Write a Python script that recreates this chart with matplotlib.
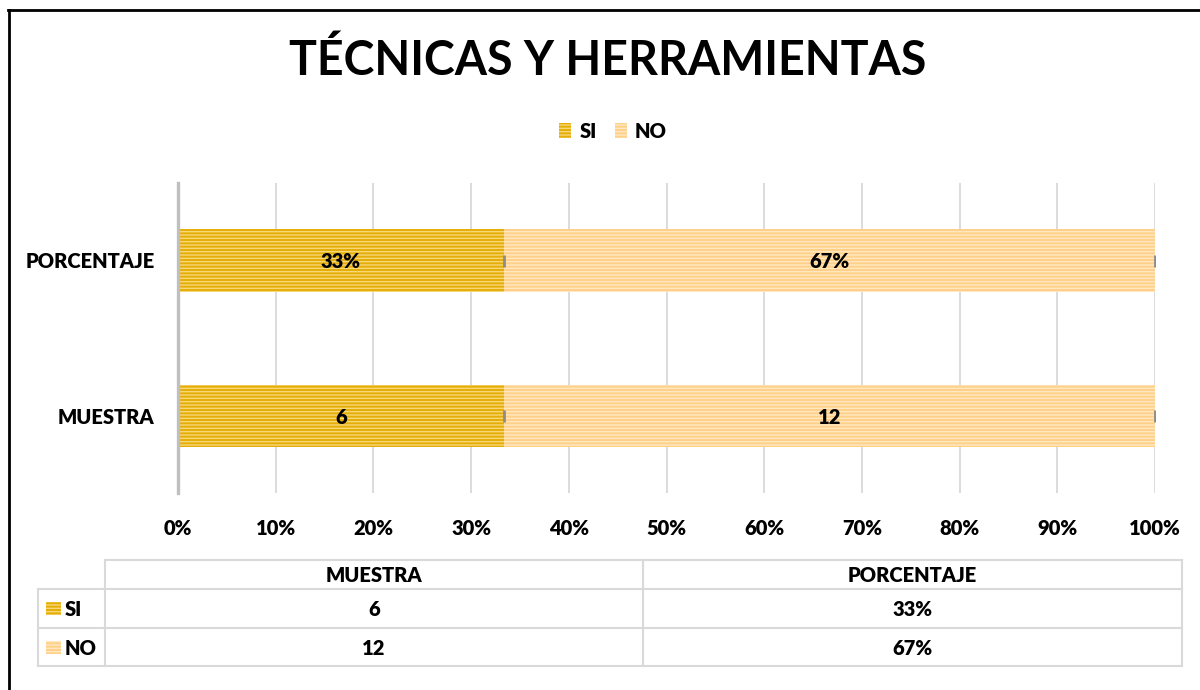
import matplotlib
matplotlib.use("Agg")
import matplotlib.pyplot as plt
import numpy as np
from matplotlib.lines import Line2D
from matplotlib.patches import Rectangle

# ---- data ----
categories = ["MUESTRA", "PORCENTAJE"]
series_names = ["SI", "NO"]
si_values = [6, 0.3333]
no_values = [12, 0.6667]
si_labels = ["6", "33%"]
no_labels = ["12", "67%"]
xtick_values = [0, 0.1, 0.2, 0.3, 0.4, 0.5, 0.6, 0.7, 0.8, 0.9, 1.0]
xtick_labels = ["0%", "10%", "20%", "30%", "40%", "50%", "60%", "70%", "80%", "90%", "100%"]
title = "TÉCNICAS Y HERRAMIENTAS"

# ---- style ----
plt.rcParams['font.family'] = ['Lato', 'DejaVu Sans']
plt.rcParams['hatch.linewidth'] = 1.0
FS = 14.5
FW = "heavy"
si_face, si_hatch = "#E5AD08", "#F7D877"
no_face, no_hatch = "#FFD088", "#FFE7C2"
grid_c = "#D9D9D9"

W, H = 1200, 690
fig = plt.figure(figsize=(12, 6.9), dpi=100)

def fx(px):
    return px / W

def fy(py):
    return 1 - py / H

ax = fig.add_axes([fx(178), fy(493), fx(1155) - fx(178), fy(183) - fy(493)])

si = np.array(si_values, dtype=float)
no = np.array(no_values, dtype=float)
tot = si + no
si_f = si / tot
no_f = no / tot
y = np.arange(len(categories))

b1 = ax.barh(y, si_f, height=0.4, color=si_face, edgecolor=si_hatch, linewidth=0,
             hatch="-----", label=series_names[0], zorder=3)
b2 = ax.barh(y, no_f, left=si_f, height=0.4, color=no_face, edgecolor=no_hatch, linewidth=0,
             hatch="-----", label=series_names[1], zorder=3)

for i in range(len(categories)):
    ax.text(si_f[i] / 2, y[i], si_labels[i], ha="center", va="center_baseline",
            fontsize=FS, fontweight=FW, color="black", zorder=5)
    ax.text(si_f[i] + no_f[i] / 2, y[i], no_labels[i], ha="center", va="center_baseline",
            fontsize=FS, fontweight=FW, color="black", zorder=5)

# small grey markers at segment ends
ends = np.concatenate([si_f, si_f + no_f])
ax.plot(ends, np.concatenate([y, y]), linestyle="none", marker="|", markersize=8,
        markeredgewidth=2, color="#8C8C8C", zorder=4)

ax.set_xlim(0, 1)
ax.set_ylim(-0.5, 1.5)
ax.set_xticks(xtick_values)
ax.set_xticklabels(xtick_labels, fontsize=FS, fontweight=FW)
ax.set_yticks(y)
ax.set_yticklabels(categories, fontsize=FS, fontweight=FW)
ax.tick_params(axis="x", length=0, pad=19)
ax.tick_params(axis="y", length=0, pad=17)
ax.grid(axis="x", color=grid_c, linewidth=1.3, zorder=0)
for s in ["top", "right", "bottom"]:
    ax.spines[s].set_visible(False)
ax.spines["left"].set_color("#BFBFBF")
ax.spines["left"].set_linewidth(2.4)
ax.spines["left"].set_zorder(6)

# title
fig.text(fx(608), fy(61), title, ha="center", va="center", fontsize=33.5,
         fontweight="bold", color="black")

# legend
fig.legend(handles=[b1, b2], labels=series_names, loc="center",
           bbox_to_anchor=(fx(613), fy(131)), ncol=2, frameon=False,
           prop={"size": FS, "weight": FW}, handlelength=0.6, handleheight=0.75,
           handletextpad=0.4, columnspacing=0.9)

# figure border (top and left)
fig.add_artist(Line2D([fx(8), 1.0], [fy(10), fy(10)], color="black", linewidth=2, transform=fig.transFigure))
fig.add_artist(Line2D([fx(9), fx(9)], [fy(10), 0.0], color="black", linewidth=2, transform=fig.transFigure))

# data table
tl = dict(color=grid_c, linewidth=1.5, transform=fig.transFigure)
x_lab, x_c1, x_c2, x_end = 38, 105, 643, 1182
y_top, y_h, y_r1, y_r2 = 560, 589, 628, 666
fig.add_artist(Line2D([fx(x_c1), fx(x_end)], [fy(y_top)] * 2, **tl))
for yy in [y_h, y_r1, y_r2]:
    fig.add_artist(Line2D([fx(x_lab), fx(x_end)], [fy(yy)] * 2, **tl))
fig.add_artist(Line2D([fx(x_lab)] * 2, [fy(y_h), fy(y_r2)], **tl))
for xx in [x_c1, x_c2, x_end]:
    fig.add_artist(Line2D([fx(xx)] * 2, [fy(y_top), fy(y_r2)], **tl))

col_centers = [(x_c1 + x_c2) / 2, (x_c2 + x_end) / 2]
for j, cat in enumerate(categories):
    fig.text(fx(col_centers[j]), fy((y_top + y_h) / 2), cat, ha="center", va="center_baseline",
             fontsize=FS, fontweight=FW)
row_ys = [(y_h + y_r1) / 2, (y_r1 + y_r2) / 2]
row_labels = [si_labels, no_labels]
faces = [(si_face, si_hatch), (no_face, no_hatch)]
for r in range(2):
    fc, hc = faces[r]
    fig.add_artist(Rectangle((fx(46), fy(row_ys[r] + 6.5)), fx(15), fy(0) - fy(13),
                             facecolor=fc, edgecolor=hc, linewidth=0, hatch="-----",
                             transform=fig.transFigure))
    fig.text(fx(65), fy(row_ys[r]), series_names[r], ha="left", va="center_baseline",
             fontsize=FS, fontweight=FW)
    for j in range(len(categories)):
        fig.text(fx(col_centers[j]), fy(row_ys[r]), row_labels[r][j], ha="center",
                 va="center_baseline", fontsize=FS, fontweight=FW)

fig.savefig("out.png", dpi=100, facecolor="white")
